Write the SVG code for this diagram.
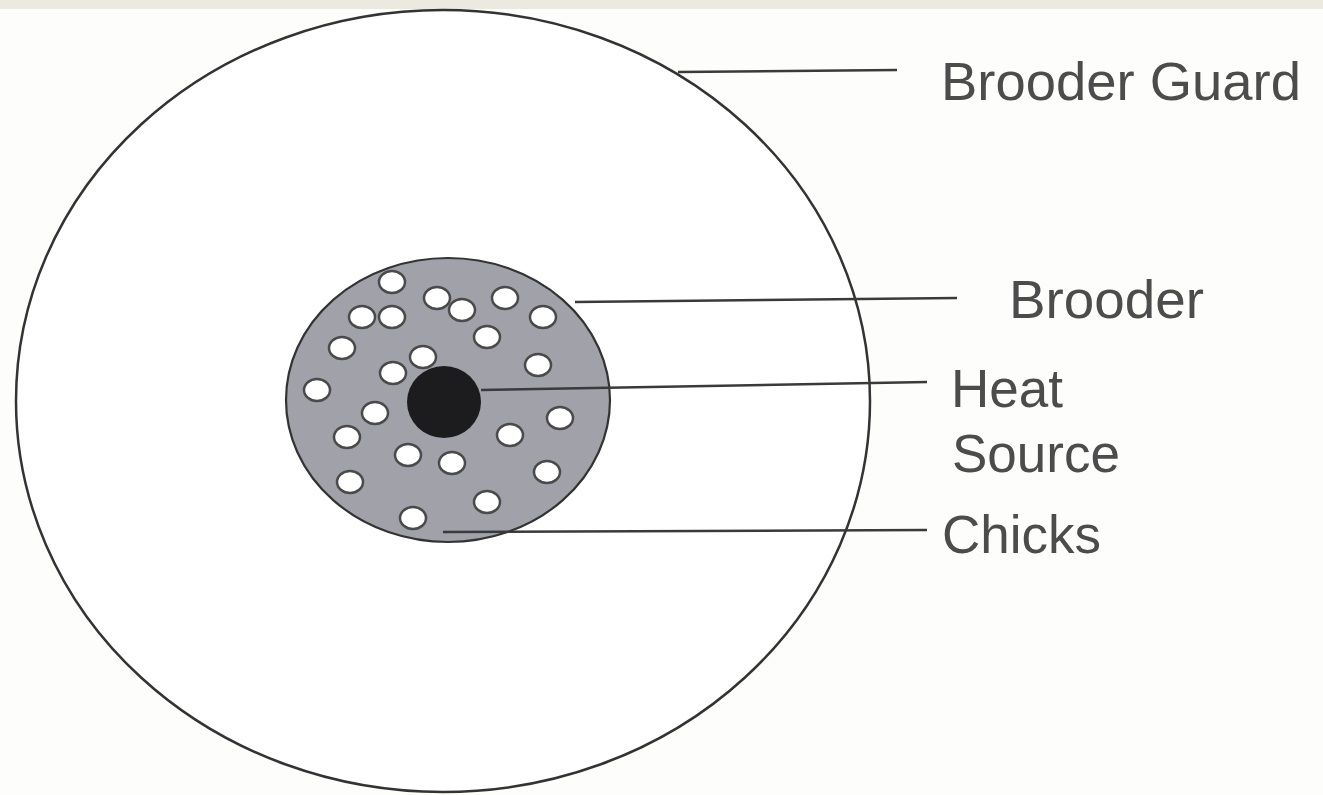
<svg xmlns="http://www.w3.org/2000/svg" width="1323" height="795" viewBox="0 0 1323 795">
<style>
.lbl{font-family:"Liberation Sans",Arial,sans-serif;fill:#4c4c4c;font-size:53px}
.lead{stroke:#3a3a3a;stroke-width:2.5;fill:none}
.chick{fill:#ffffff;stroke:#4a4a4a;stroke-width:2.5}
</style>
<rect x="0" y="0" width="1323" height="795" fill="#fdfdfc"/>
<rect x="0" y="0" width="1323" height="9" fill="#ece9e1"/>
<g id="brooder-guard">
<ellipse cx="443" cy="401" rx="427" ry="391" fill="#ffffff" stroke="#333" stroke-width="2.5"/>
</g>
<g id="brooder">
<ellipse cx="448" cy="400" rx="162" ry="142" fill="#a0a1a9" stroke="#333" stroke-width="2.2"/>
</g>
<g id="chicks">
<ellipse class="chick" cx="392" cy="282" rx="13" ry="11"/>
<ellipse class="chick" cx="437" cy="298" rx="13" ry="11"/>
<ellipse class="chick" cx="462" cy="310" rx="13" ry="11"/>
<ellipse class="chick" cx="505" cy="298" rx="13" ry="11"/>
<ellipse class="chick" cx="543" cy="317" rx="13" ry="11"/>
<ellipse class="chick" cx="362" cy="317" rx="13" ry="11"/>
<ellipse class="chick" cx="392" cy="317" rx="13" ry="11"/>
<ellipse class="chick" cx="487" cy="337" rx="13" ry="11"/>
<ellipse class="chick" cx="342" cy="348" rx="13" ry="11"/>
<ellipse class="chick" cx="423" cy="357" rx="13" ry="11"/>
<ellipse class="chick" cx="393" cy="373" rx="13" ry="11"/>
<ellipse class="chick" cx="538" cy="365" rx="13" ry="11"/>
<ellipse class="chick" cx="317" cy="390" rx="13" ry="11"/>
<ellipse class="chick" cx="375" cy="413" rx="13" ry="11"/>
<ellipse class="chick" cx="560" cy="418" rx="13" ry="11"/>
<ellipse class="chick" cx="347" cy="437" rx="13" ry="11"/>
<ellipse class="chick" cx="510" cy="435" rx="13" ry="11"/>
<ellipse class="chick" cx="408" cy="455" rx="13" ry="11"/>
<ellipse class="chick" cx="452" cy="463" rx="13" ry="11"/>
<ellipse class="chick" cx="350" cy="482" rx="13" ry="11"/>
<ellipse class="chick" cx="547" cy="472" rx="13" ry="11"/>
<ellipse class="chick" cx="487" cy="502" rx="13" ry="11"/>
<ellipse class="chick" cx="413" cy="518" rx="13" ry="11"/>
</g>
<g id="heat-source">
<ellipse cx="444" cy="402" rx="37" ry="36" fill="#1c1c1e"/>
</g>
<g id="connectors">
<line class="lead" x1="678" y1="72" x2="897" y2="70"/>
<line class="lead" x1="575" y1="302" x2="957" y2="298"/>
<line class="lead" x1="481" y1="390" x2="927" y2="382"/>
<line class="lead" x1="443" y1="532" x2="927" y2="530"/>
</g>
<g id="labels">
<text class="lbl" x="941" y="100" font-size="56" textLength="360" lengthAdjust="spacingAndGlyphs">Brooder Guard</text>
<text class="lbl" x="1009" y="318" textLength="195" lengthAdjust="spacingAndGlyphs">Brooder</text>
<text class="lbl" x="951" y="407">Heat</text>
<text class="lbl" x="952" y="472">Source</text>
<text class="lbl" x="942" y="553">Chicks</text>
</g>
</svg>
